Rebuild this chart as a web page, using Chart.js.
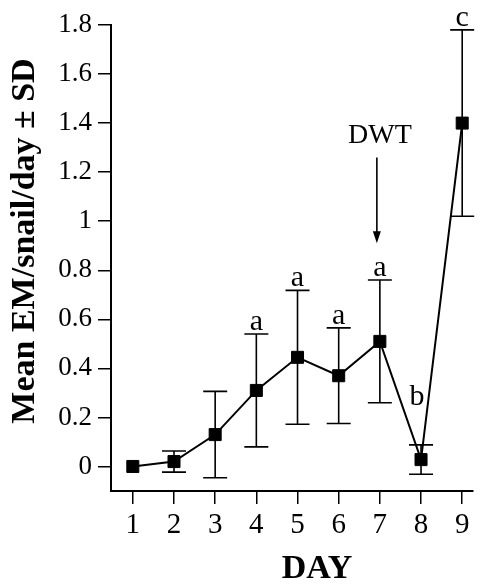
<!DOCTYPE html>
<html>
<head>
<meta charset="utf-8">
<script src="https://cdn.jsdelivr.net/npm/chart.js@4"></script>
<style>
  html, body { margin: 0; padding: 0; background: #fff; }
  #wrap { width: 482px; height: 587px; }
</style>
</head>
<body>
<div id="wrap"><canvas id="myChart" width="482" height="587"></canvas></div>
<script>
const days = [1, 2, 3, 4, 5, 6, 7, 8, 9];
const means = [0, 0.02, 0.13, 0.31, 0.445, 0.37, 0.51, 0.028, 1.4];
const sd = [0, 0.043, 0.176, 0.23, 0.273, 0.195, 0.25, 0.06, 0.38];
const letters = ["", "", "", "a", "a", "a", "a", "b", "c"];
const yTicks = [0, 0.2, 0.4, 0.6, 0.8, 1, 1.2, 1.4, 1.6, 1.8];

const serif = "'Liberation Serif', 'Times New Roman', serif";

// error bars, significance letters, DWT arrow and axis titles
const extras = {
  id: "extras",
  beforeDatasetsDraw(chart) {
    const ctx = chart.ctx;
    const x = chart.scales.x;
    const y = chart.scales.y;
    ctx.save();
    ctx.strokeStyle = "#000";
    ctx.lineWidth = 1.6;
    days.forEach((d, i) => {
      if (!sd[i]) return;
      const px = x.getPixelForValue(d);
      const top = y.getPixelForValue(means[i] + sd[i]);
      const bot = y.getPixelForValue(means[i] - sd[i]);
      ctx.beginPath();
      ctx.moveTo(px, top);
      ctx.lineTo(px, bot);
      ctx.moveTo(px - 12, top);
      ctx.lineTo(px + 12, top);
      ctx.moveTo(px - 12, bot);
      ctx.lineTo(px + 12, bot);
      ctx.stroke();
    });
    ctx.restore();
  },
  afterDraw(chart) {
    const ctx = chart.ctx;
    const x = chart.scales.x;
    const y = chart.scales.y;
    ctx.save();
    ctx.fillStyle = "#000";
    ctx.strokeStyle = "#000";
    ctx.textAlign = "center";
    ctx.textBaseline = "alphabetic";
    ctx.font = "30px " + serif;
    letters.forEach((l, i) => {
      if (!l) return;
      let px = x.getPixelForValue(days[i]);
      let py = y.getPixelForValue(means[i] + sd[i]) - 4;
      if (l === "b") {
        px -= 4;
        py -= 36;
      }
      ctx.fillText(l, px, py);
    });

    // DWT marker over day 7
    const ax = x.getPixelForValue(7) - 3;
    ctx.font = "28px " + serif;
    ctx.fillText("DWT", ax + 3, y.getPixelForValue(1.32));
    const a0 = y.getPixelForValue(1.26);
    const a1 = y.getPixelForValue(0.91);
    ctx.lineWidth = 1.6;
    ctx.beginPath();
    ctx.moveTo(ax, a0);
    ctx.lineTo(ax, a1 - 8);
    ctx.stroke();
    ctx.beginPath();
    ctx.moveTo(ax - 4, a1 - 12);
    ctx.lineTo(ax + 4, a1 - 12);
    ctx.lineTo(ax, a1);
    ctx.closePath();
    ctx.fill();

    // axis titles
    ctx.font = "bold 34px " + serif;
    ctx.textBaseline = "middle";
    ctx.fillText("DAY", 317, 569);
    ctx.translate(25, 241);
    ctx.rotate(-Math.PI / 2);
    ctx.fillText("Mean EM/snail/day \u00b1 SD", 0, 0);
    ctx.restore();
  },
};

new Chart(document.getElementById("myChart"), {
  type: "line",
  data: {
    datasets: [
      {
        data: days.map((d, i) => ({ x: d, y: means[i] })),
        borderColor: "#000",
        backgroundColor: "#000",
        borderWidth: 2,
        pointStyle: "rect",
        pointRadius: 8.5,
        pointBorderWidth: 1,
        tension: 0,
      },
    ],
  },
  options: {
    responsive: false,
    animation: false,
    layout: { padding: { top: 25, right: 9, left: 0, bottom: 0 } },
    plugins: { legend: { display: false }, tooltip: { enabled: false } },
    scales: {
      x: {
        type: "linear",
        min: 0.47,
        max: 9.25,
        afterBuildTicks: (s) => { s.ticks = days.map((v) => ({ value: v })); },
        afterFit: (s) => { s.height = 96; },
        grid: { drawOnChartArea: false, tickLength: 13, color: "#000", lineWidth: 1.5 },
        border: { display: true, color: "#000", width: 2 },
        ticks: { color: "#000", padding: 4, font: { family: serif, size: 29 } },
      },
      y: {
        min: -0.1,
        max: 1.8,
        afterBuildTicks: (s) => { s.ticks = yTicks.map((v) => ({ value: v })); },
        afterFit: (s) => { s.width = 111; },
        grid: { drawOnChartArea: false, tickLength: 13, color: "#000", lineWidth: 1.5 },
        border: { display: true, color: "#000", width: 2 },
        ticks: {
          color: "#000",
          padding: 6,
          font: { family: serif, size: 27 },
          callback: (v) => String(+v.toFixed(1)),
        },
      },
    },
  },
  plugins: [extras],
});
</script>
</body>
</html>
